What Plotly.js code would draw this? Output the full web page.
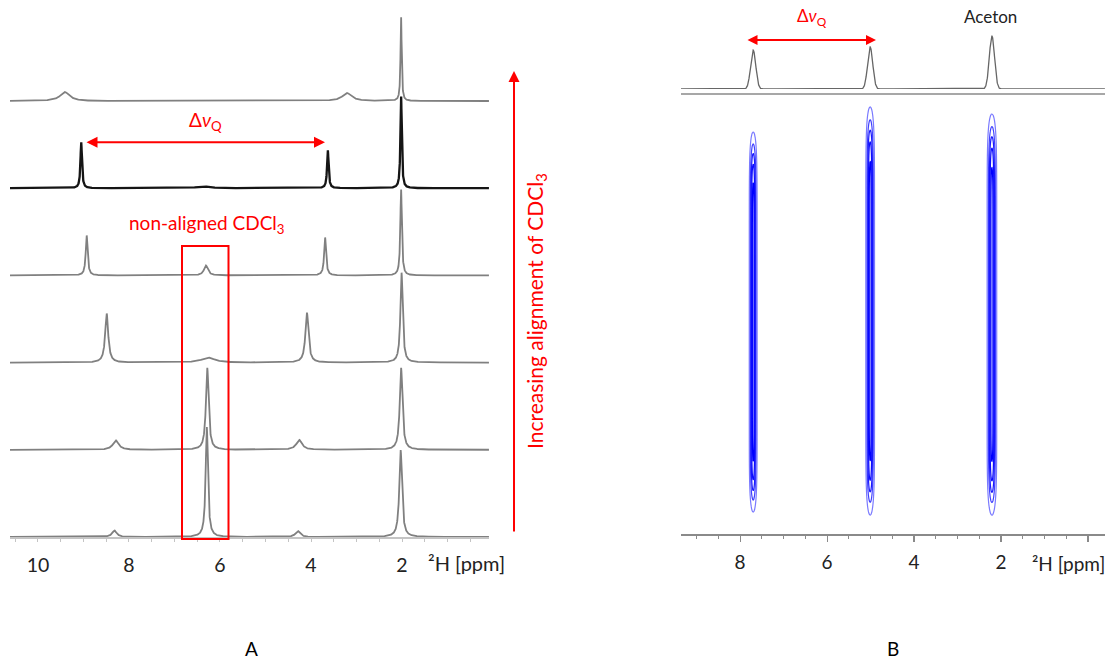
<!DOCTYPE html>
<html><head><meta charset="utf-8">
<script src="https://cdn.plot.ly/plotly-3.0.1.min.js"></script>
<style>html,body{margin:0;padding:0;background:#fff}#plot{width:1107px;height:659px}</style>
</head><body><div id="plot"></div>
<script>
// ---------- DATA ----------
// Panel A: six stacked 2H spectra, top (most aligned) to bottom (least aligned)
const traceNames = ["spectrum 1","spectrum 2","spectrum 3","spectrum 4","spectrum 5","spectrum 6"];
// peak positions (ppm)
const peakPpmA = [
  [9.41, 3.21, 2.02],
  [9.05, 6.37, 3.63, 2.02],
  [8.93, 6.31, 3.69, 2.02],
  [8.49, 6.26, 4.09, 2.01],
  [8.29, 6.28, 4.26, 2.02],
  [8.32, 6.29, 4.29, 2.03]
];
// peak heights (relative intensity)
const peakHeightA = [
  [9, 8, 84],
  [46, 2, 38, 92],
  [40, 10, 38, 86],
  [49, 5, 50, 90],
  [9.5, 82, 10, 82],
  [6.5, 110, 6, 87]
];
// peak full widths at half height (ppm)
const peakWidthA = [
  [0.25, 0.25, 0.03],
  [0.04, 0.3, 0.04, 0.035],
  [0.05, 0.1, 0.05, 0.04],
  [0.08, 0.35, 0.08, 0.06],
  [0.15, 0.07, 0.15, 0.07],
  [0.12, 0.06, 0.12, 0.07]
];
const tickValsA = [10, 8, 6, 4, 2];
const tickTextA = ["10", "8", "6", "4", "2"];

// Panel B: 1D projection and 2D contour signals
const peakPpmB = [7.70, 5.01, 2.21];
const peakHeightB = [39, 42, 53];
const peakWidthB = [0.14, 0.14, 0.14];
const contourLow = [22, 19, 19];
const contourHigh = [402, 427, 420];
const contourWidth = [0.18, 0.2, 0.22];
const tickValsB = [8, 6, 4, 2, 0];
const tickTextB = ["8", "6", "4", "2", ""];

// ---------- helpers ----------
const W = 1107, H = 659;
const px = x => x / W;
const py = y => 1 - y / H;
const FONT = "Lato, 'Open Sans', sans-serif";
const RED = "#ff0000";

const rangeA = [10.615, 0.088];
const rangeB = [9.36, -0.39];
const stackStep = 87.2;

function grid(a, b, step) {
  const out = [];
  const lo = Math.min(a, b), hi = Math.max(a, b);
  for (let v = hi; v >= lo - 1e-9; v -= step) out.push(+v.toFixed(4));
  return out;
}
function lorentzSum(xs, pos, hts, wds, offset) {
  return xs.map(x => {
    let s = 0;
    for (let i = 0; i < pos.length; i++) {
      const g = wds[i] / 2;
      s += hts[i] * g * g / ((x - pos[i]) * (x - pos[i]) + g * g);
    }
    return s + offset;
  });
}
function gaussSum(xs, pos, hts, wds) {
  return xs.map(x => {
    let s = 0;
    for (let i = 0; i < pos.length; i++) {
      const sig = wds[i] / 2.3548;
      s += hts[i] * Math.exp(-0.5 * Math.pow((x - pos[i]) / sig, 2));
    }
    return s;
  });
}

const data = [];
// Panel A spectra
const xsA = grid(rangeA[0], rangeA[1], 0.002);
const nA = traceNames.length;
for (let t = 0; t < nA; t++) {
  const off = (nA - 1 - t) * stackStep;
  const isBlack = t === 1;
  data.push({
    type: "scatter", mode: "lines", name: traceNames[t],
    x: xsA, y: lorentzSum(xsA, peakPpmA[t], peakHeightA[t], peakWidthA[t], off),
    xaxis: "x", yaxis: "y",
    line: {color: isBlack ? "#151515" : "#808080", width: isBlack ? 2.3 : 1.8},
    hoverinfo: "skip"
  });
}

// Panel B 1D projection
const xsB = grid(rangeB[0], rangeB[1], 0.004);
data.push({
  type: "scatter", mode: "lines", name: "1D",
  x: xsB, y: gaussSum(xsB, peakPpmB, peakHeightB, peakWidthB),
  xaxis: "x3", yaxis: "y3",
  line: {color: "#666666", width: 1.3}, hoverinfo: "skip"
});

// Panel B contour
const cx = grid(rangeB[0], rangeB[1], 0.008);
const cy = [];
for (let v = 0; v <= 434; v += 3) cy.push(v);
const expo = 10;
const z = cy.map(yv => cx.map(xv => {
  let s = 0;
  for (let i = 0; i < peakPpmB.length; i++) {
    const sig = contourWidth[i] / 4.3;
    const yc = (contourLow[i] + contourHigh[i]) / 2;
    const hw = (contourHigh[i] - contourLow[i]) / 2 / 1.087;
    const gx = Math.exp(-0.5 * Math.pow((xv - peakPpmB[i]) / sig, 2));
    const gy = Math.exp(-Math.pow(Math.abs((yv - yc) / hw), expo));
    s += gx * gy;
  }
  return s;
}));
data.push({
  type: "contour", x: cx, y: cy, z: z, xaxis: "x2", yaxis: "y2",
  showscale: false, hoverinfo: "skip",
  contours: {coloring: "lines", start: 0.1, end: 0.9, size: 0.2},
  line: {width: 1.2, smoothing: 1},
  colorscale: [[0, "#7a7aff"], [0.4, "#2020ff"], [1, "#0000ff"]]
});

const layout = {
  width: W, height: H,
  margin: {l: 0, r: 0, t: 0, b: 0},
  paper_bgcolor: "#fff", plot_bgcolor: "rgba(0,0,0,0)",
  showlegend: false,
  font: {family: FONT, color: "#222"},
  xaxis: {
    domain: [px(10), px(489)], range: rangeA, anchor: "y",
    showline: true, linecolor: "#c4c4c4", linewidth: 1.5,
    ticks: "outside", ticklen: 3, tickcolor: "#c4c4c4", tickwidth: 1,
    tickmode: "array", tickvals: tickValsA, ticktext: tickTextA,
    tickfont: {family: FONT, size: 19.5, color: "#222"}, ticklabelstandoff: 7,
    minor: {dtick: 0.5, ticks: "outside", ticklen: 3, tickcolor: "#c4c4c4", showgrid: false},
    showgrid: false, zeroline: false, fixedrange: true
  },
  yaxis: {domain: [py(537), py(10)], range: [0, 527], anchor: "x", visible: false, fixedrange: true},
  xaxis2: {
    domain: [px(681), px(1105)], range: rangeB, anchor: "y2",
    showline: true, linecolor: "#8a8a8a", linewidth: 1.5,
    ticks: "outside", ticklen: 6, tickcolor: "#8a8a8a", tickwidth: 1.2,
    tickmode: "array", tickvals: tickValsB, ticktext: tickTextB,
    tickfont: {family: FONT, size: 19, color: "#222"}, ticklabelstandoff: 5,
    minor: {dtick: 0.5, ticks: "outside", ticklen: 3, tickcolor: "#8a8a8a", showgrid: false},
    showgrid: false, zeroline: false, fixedrange: true
  },
  yaxis2: {domain: [py(534), py(100)], range: [0, 434], anchor: "x2", visible: false, fixedrange: true},
  xaxis3: {matches: "x2", anchor: "y3", visible: false, range: rangeB, domain: [px(681), px(1105)]},
  yaxis3: {domain: [py(89), py(9)], range: [0, 80], anchor: "x3", visible: false, fixedrange: true},
  shapes: [
    {type: "rect", xref: "paper", yref: "paper", x0: px(182), x1: px(228.5), y0: py(539), y1: py(246),
     line: {color: RED, width: 2}, fillcolor: "rgba(0,0,0,0)"},
    {type: "line", xref: "paper", yref: "paper", x0: px(681), x1: px(1105), y0: py(94), y1: py(94),
     line: {color: "#8a8a8a", width: 1.3}}
  ],
  annotations: [
    {xref: "paper", yref: "paper", x: px(205), y: py(121), text: "Δ<i>ν</i><sub>Q</sub>", showarrow: false,
     xanchor: "center", yanchor: "middle", font: {family: FONT, size: 19, color: RED}},
    {xref: "paper", yref: "paper", x: px(325), y: py(142.3), ax: -240, ay: 0, text: "", showarrow: true,
     arrowside: "end+start", arrowhead: 2, startarrowhead: 2, arrowsize: 1.1, startarrowsize: 1.1,
     arrowwidth: 2, arrowcolor: RED},
    {xref: "paper", yref: "paper", x: px(206.5), y: py(224), text: "non-aligned CDCl<sub>3</sub>", showarrow: false,
     xanchor: "center", yanchor: "middle", font: {family: FONT, size: 19, color: RED}},
    {xref: "paper", yref: "paper", x: px(514), y: py(71), ax: 0, ay: 462, text: "", showarrow: true,
     arrowhead: 2, arrowsize: 1.1, arrowwidth: 2, arrowcolor: RED},
    {xref: "paper", yref: "paper", x: px(536), y: py(311), text: "Increasing alignment of CDCl<sub>3</sub>",
     showarrow: false, textangle: -90, xanchor: "center", yanchor: "middle",
     font: {family: FONT, size: 21, color: RED}},
    {xref: "paper", yref: "paper", x: px(812), y: py(17), text: "Δ<i>ν</i><sub>Q</sub>", showarrow: false,
     xanchor: "center", yanchor: "middle", font: {family: FONT, size: 17, color: RED}},
    {xref: "paper", yref: "paper", x: px(876), y: py(40), ax: -130, ay: 0, text: "", showarrow: true,
     arrowside: "end+start", arrowhead: 2, startarrowhead: 2, arrowsize: 1, startarrowsize: 1,
     arrowwidth: 2, arrowcolor: RED},
    {xref: "paper", yref: "paper", x: px(990.5), y: py(17), text: "Aceton", showarrow: false,
     xanchor: "center", yanchor: "middle", font: {family: FONT, size: 17, color: "#222"}},
    {xref: "paper", yref: "paper", x: px(466), y: py(563), text: "²H [ppm]", showarrow: false,
     xanchor: "center", yanchor: "middle", font: {family: FONT, size: 20, color: "#222"}},
    {xref: "paper", yref: "paper", x: px(1068), y: py(563), text: "²H [ppm]", showarrow: false,
     xanchor: "center", yanchor: "middle", font: {family: FONT, size: 19, color: "#222"}},
    {xref: "paper", yref: "paper", x: px(251), y: py(648), text: "A", showarrow: false,
     xanchor: "center", yanchor: "middle", font: {family: FONT, size: 19, color: "#000"}},
    {xref: "paper", yref: "paper", x: px(893), y: py(648), text: "B", showarrow: false,
     xanchor: "center", yanchor: "middle", font: {family: FONT, size: 19, color: "#000"}}
  ]
};

Plotly.newPlot("plot", data, layout, {staticPlot: true, displayModeBar: false});
</script>
</body></html>
